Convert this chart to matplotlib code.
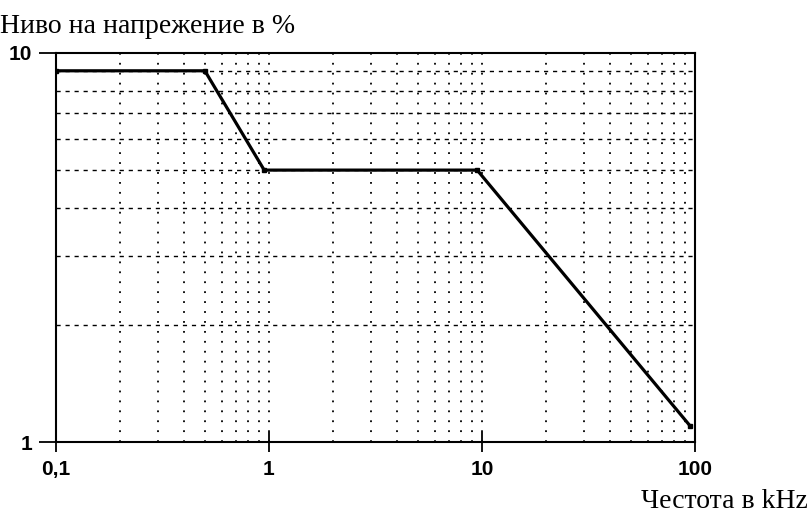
import matplotlib.pyplot as plt
from matplotlib.ticker import FixedLocator, NullFormatter

# ---------------------- Data ----------------------

freq_khz = [0.1, 0.5, 0.95, 9.5, 95]
level_pct = [9, 9, 5, 5, 1.1]

x_ticks = [0.1, 1, 10, 100]
x_tick_labels = ['0,1', '1', '10', '100']
y_ticks = [1, 10]
y_tick_labels = ['1', '10']

x_minor = [m * d for d in (0.1, 1, 10) for m in range(2, 10)]
y_minor = list(range(2, 10))

# ---------------------- Plot ----------------------

fig = plt.figure(figsize=(8.08, 5.17), dpi=100)
ax = fig.add_axes([0.0693, 0.145, 0.7907, 0.7525])

ax.set_xscale('log')
ax.set_yscale('log')
ax.set_xlim(0.1, 100)
ax.set_ylim(1, 10)

# grid: dashed horizontals, sparse dotted verticals
for y in y_minor:
    ax.axhline(y, color='black', lw=1.0, ls=(0, (3, 3.5)), zorder=1)
for x in x_minor + [1, 10]:
    ax.axvline(x, color='black', lw=1.3, ls=(0, (1, 4.5)), zorder=1)

ax.plot(freq_khz, level_pct, color='black', lw=2.3, zorder=3,
        marker='s', markersize=3.5)

ax.xaxis.set_major_locator(FixedLocator(x_ticks))
ax.set_xticklabels(x_tick_labels)
ax.xaxis.set_minor_locator(FixedLocator(x_minor))
ax.xaxis.set_minor_formatter(NullFormatter())
ax.yaxis.set_major_locator(FixedLocator(y_ticks))
ax.set_yticklabels(y_tick_labels)
ax.yaxis.set_minor_locator(FixedLocator(y_minor))
ax.yaxis.set_minor_formatter(NullFormatter())

ax.tick_params(which='minor', length=0)
ax.tick_params(axis='x', which='major', direction='inout', length=14, width=1.3,
               pad=6, labelsize=15)
ax.tick_params(axis='y', which='major', direction='out', length=12, width=1.3,
               pad=5, labelsize=15)
for lbl in ax.get_xticklabels() + ax.get_yticklabels():
    lbl.set_fontweight('bold')
    lbl.set_family('Liberation Sans')

for side in ['left', 'bottom', 'right', 'top']:
    ax.spines[side].set_linewidth(1.5)

fig.text(0.0, 0.937, 'Ниво на напрежение в %', family='Liberation Serif',
         fontsize=20, ha='left', va='baseline')
fig.text(1.0, 0.018, 'Честота в kHz', family='Liberation Serif',
         fontsize=20, ha='right', va='baseline')

fig.savefig('out.png', dpi=100)
